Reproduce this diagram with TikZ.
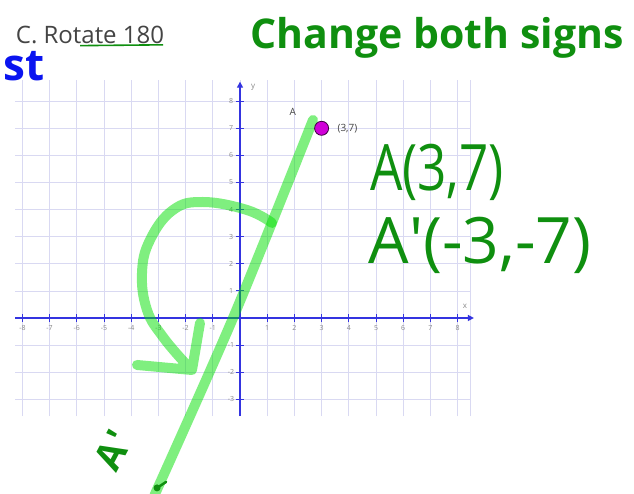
\documentclass[tikz,border=0pt]{standalone}
\usepackage{fontspec}
\setsansfont{Open Sans}
\usetikzlibrary{arrows.meta,positioning}
\definecolor{rt-grid}{HTML}{D9D9F2}
\definecolor{rt-axis}{HTML}{3434E0}
\definecolor{rt-pen}{HTML}{0F8F0F}
\definecolor{rt-hl}{HTML}{00E000}
\definecolor{rt-blue}{HTML}{0A14F0}
\definecolor{rt-pt}{HTML}{D000D8}
\definecolor{rt-ink}{HTML}{444444}
\definecolor{rt-tick}{HTML}{8A8A8A}

\begin{document}
\begin{tikzpicture}[x=27.2pt, y=27.1pt, >={Triangle[length=6pt,width=6pt]}, font=\sffamily,
  ticklbl/.style={text=rt-tick, font=\sffamily\fontsize{7}{7}\selectfont, inner sep=1pt},
  hand/.style={inner sep=0pt},
  hl/.style={draw=rt-hl, opacity=0.5, line width=10pt, line cap=round, line join=round}]
\useasboundingbox (-8.824,-6.494) rectangle (14.485,11.734);
\fill[white] (-8.824,-6.494) rectangle (14.485,11.734);
\foreach \i in {-3,-2,...,8} \draw[rt-grid, line width=0.7pt] (-8.27,\i) -- (8.46,\i);
\foreach \i in {-8,-7,...,8} \draw[rt-grid, line width=0.7pt] (\i,-3.62) -- (\i,8.78);
\draw[rt-grid, line width=0.7pt] (8.46,-3.62) -- (8.46,8.78);
\draw[rt-axis, line width=1.3pt, ->] (-8.27,0) -- (8.6,0);
\draw[rt-axis, line width=1.3pt, ->] (0,-3.62) -- (0,8.72);
\foreach \i in {-8,-7,...,-1,1,2,...,8} {
  \draw[rt-axis, line width=0.8pt] (\i,-0.15) -- (\i,0.15);
  \node[ticklbl] (xt\i) at (\i,-0.36) {\i};
}
\foreach \i in {-3,-2,-1,1,2,...,8} {
  \draw[rt-axis, line width=0.8pt] (-0.15,\i) -- (0.15,\i);
  \node[ticklbl] (yt\i) at (-0.33,\i) {\i};
}
\node[ticklbl, font=\sffamily\fontsize{8}{8}\selectfont] (ylbl) at (0.48,8.52) {y};
\node[ticklbl, font=\sffamily\fontsize{8}{8}\selectfont] (xlbl) at (8.27,0.44) {x};

\draw[hl] plot[smooth] coordinates {(2.684,7.306) (-0.257,0) (-3.15,-6.55)};
\draw[hl] plot[smooth, tension=0.7] coordinates {(1.176,3.506) (0.257,3.985) (-1.36,4.28) (-2.463,3.985) (-3.309,2.878) (-3.603,1.661) (-3.419,0.295) (-2.831,-0.701) (-2.022,-1.661)}
  (-1.471,-0.185) -- (-1.765,-1.919) -- (-3.787,-1.734);

\node[circle, fill=rt-pt, draw=black!70!rt-pt, line width=0.8pt, minimum size=14pt, inner sep=0pt] (A) at (3,7) {};
\node[text=rt-ink, font=\sffamily\fontsize{10}{10}\selectfont, above left=4pt and 17pt of A] (Alab) {A};
\node[text=rt-ink, font=\sffamily\fontsize{10}{10}\selectfont, right=5pt of A] (Acoord) {(3,7)};

\node[hand, text=rt-ink, font=\sffamily\fontsize{24}{24}\selectfont] (title) at (-5.515,10.443) {C. Rotate 180};
\draw[rt-pen, line width=1.6pt] (-5.882,10.05) -- (-2.831,10.08);
\node[hand, text=rt-blue, font=\sffamily\bfseries\fontsize{44}{44}\selectfont, anchor=east] (st) at (-7.169,9.3) {st};
\node[hand, text=rt-pen, font=\sffamily\bfseries\fontsize{41}{41}\selectfont] (rule) at (7.25,10.332) {Change both signs};
\node[hand, text=rt-pen, font=\sffamily\fontsize{64}{64}\selectfont] (pA) at (7.243,5.387) {\scalebox{0.8}[1]{A(3,7)}};
\node[hand, text=rt-pen, font=\sffamily\fontsize{64}{64}\selectfont] (pA2) at (8.824,2.694) {A\textquotesingle(-3,-7)};
\node[hand, text=rt-pen, font=\sffamily\bfseries\fontsize{38}{38}\selectfont, rotate=62] (img) at (-4.669,-4.871) {A\kern2pt\textquotesingle};
\fill[rt-pen] (-3.05,-6.27) circle (3.5pt);
\draw[rt-pen, line width=2.5pt, line cap=round] (-3.05,-6.27) -- (-2.72,-6.05);
\end{tikzpicture}
\end{document}
